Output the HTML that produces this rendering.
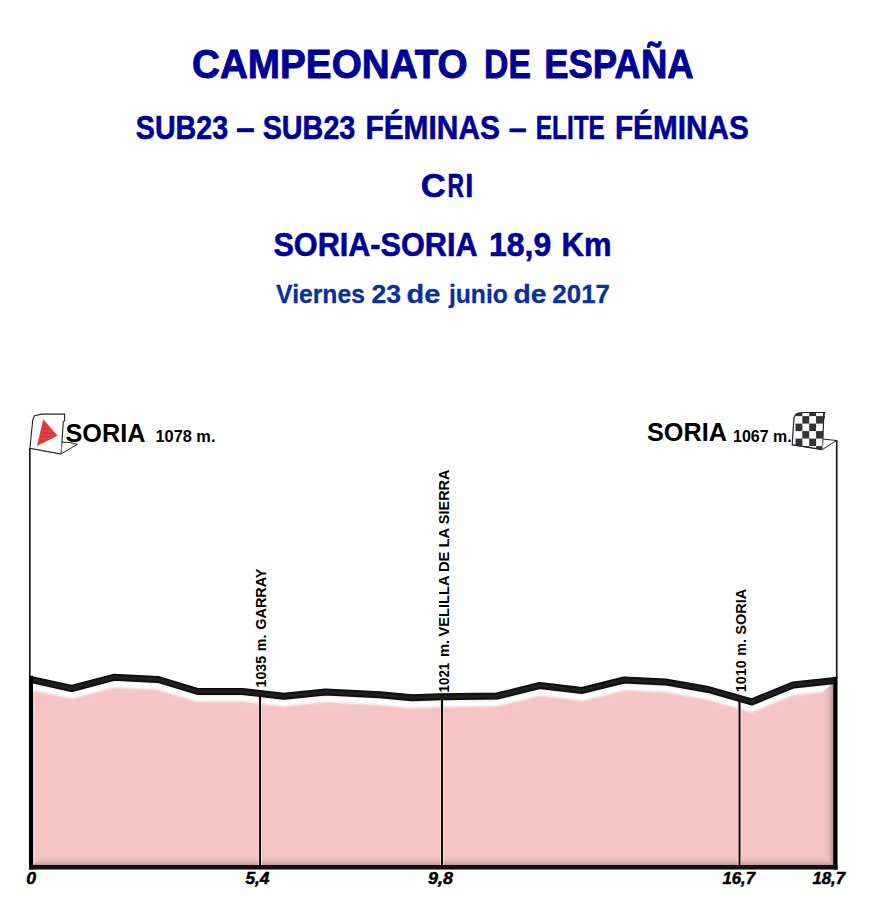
<!DOCTYPE html>
<html><head><meta charset="utf-8"><style>
html,body{margin:0;padding:0;background:#fff;width:871px;height:914px;overflow:hidden}
svg{display:block}
text{font-family:"Liberation Sans",sans-serif;font-weight:bold}
</style></head><body>
<svg width="871" height="914" viewBox="0 0 871 914">
<defs>
<clipPath id="cp"><polygon points="29.0,869.5 29.0,679.2 71.8,688.5 113.6,677.3 158.3,679.5 197.9,691.5 242.4,691.5 283.8,696.2 325.5,692.0 380.0,694.8 412.0,697.8 440.0,696.8 497.2,696.0 539.6,685.5 582.3,690.4 624.1,680.0 665.3,681.9 708.3,689.5 751.7,701.9 793.1,685.0 837.5,680.3 837.5,869.5"/></clipPath>
<filter id="bl" x="-5%" y="-50%" width="110%" height="200%"><feGaussianBlur stdDeviation="0.8"/></filter>
<linearGradient id="gr" gradientUnits="userSpaceOnUse" x1="822.2" y1="0" x2="833.2" y2="0"><stop offset="0" stop-color="#f5c5c5"/><stop offset="0.5" stop-color="#ebbdbd"/><stop offset="0.8" stop-color="#d3aaaa"/><stop offset="1" stop-color="#b39292"/></linearGradient>
<linearGradient id="gb" gradientUnits="userSpaceOnUse" x1="0" y1="854.0" x2="0" y2="865.0"><stop offset="0" stop-color="#f5c5c5"/><stop offset="0.5" stop-color="#ecbfbf"/><stop offset="0.8" stop-color="#d9afaf"/><stop offset="1" stop-color="#c09a9a"/></linearGradient>
<linearGradient id="gl" gradientUnits="userSpaceOnUse" x1="33.0" y1="0" x2="37.0" y2="0"><stop offset="0" stop-color="#e8c4c4"/><stop offset="0.3" stop-color="#f9cfcf"/><stop offset="1" stop-color="#f5c5c5"/></linearGradient>
</defs>
<polygon points="29.0,869.5 29.0,679.2 71.8,688.5 113.6,677.3 158.3,679.5 197.9,691.5 242.4,691.5 283.8,696.2 325.5,692.0 380.0,694.8 412.0,697.8 440.0,696.8 497.2,696.0 539.6,685.5 582.3,690.4 624.1,680.0 665.3,681.9 708.3,689.5 751.7,701.9 793.1,685.0 837.5,680.3 837.5,869.5" fill="#f5c5c5"/>
<g clip-path="url(#cp)">
<polygon points="33.0,683.5691588785047 37.0,687.5691588785047 37.0,861.0 33.0,865.0" fill="url(#gl)"/>
<polyline points="29.0,686.0 71.8,695.3 113.6,684.1 158.3,686.3 197.9,698.3 242.4,698.3 283.8,703.0 325.5,698.8 380.0,701.6 412.0,704.6 440.0,703.6 497.2,702.8 539.6,692.3 582.3,697.2 624.1,686.8 665.3,688.7 708.3,696.3 751.7,708.7 793.1,691.8 837.5,687.1" fill="none" stroke="#fff" stroke-width="6.6" stroke-linejoin="round" filter="url(#bl)"/>
<polygon points="33.0,865.0 44.0,854.0 822.2,854.0 833.2,865.0" fill="url(#gb)"/>
<polygon points="833.2,682.2551801801801 822.2,693.2551801801801 822.2,854.0 833.2,865.0" fill="url(#gr)"/>
</g>
<rect x="258.05" y="693.5037439613527" width="4" height="171.4962560386473" fill="#fbd6d6"/>
<rect x="259.1" y="693.5037439613527" width="1.9" height="171.4962560386473" fill="#000"/>
<rect x="440.0" y="696.7720279720279" width="4" height="168.2279720279721" fill="#fbd6d6"/>
<rect x="441.05" y="696.7720279720279" width="1.9" height="168.2279720279721" fill="#000"/>
<rect x="737.5" y="698.4142857142857" width="4" height="166.5857142857143" fill="#fbd6d6"/>
<rect x="738.55" y="698.4142857142857" width="1.9" height="166.5857142857143" fill="#000"/>
<polyline points="31.5,679.7 71.8,688.5 113.6,677.3 158.3,679.5 197.9,691.5 242.4,691.5 283.8,696.2 325.5,692.0 380.0,694.8 412.0,697.8 440.0,696.8 497.2,696.0 539.6,685.5 582.3,690.4 624.1,680.0 665.3,681.9 708.3,689.5 751.7,701.9 793.1,685.0 835.0,680.6" fill="none" stroke="#0a0a0a" stroke-width="7.0" stroke-linejoin="round"/>
<polyline points="31.5,679.7 71.8,688.5 113.6,677.3 158.3,679.5 197.9,691.5 242.4,691.5 283.8,696.2 325.5,692.0 380.0,694.8 412.0,697.8 440.0,696.8 497.2,696.0 539.6,685.5 582.3,690.4 624.1,680.0 665.3,681.9 708.3,689.5 751.7,701.9 793.1,685.0 835.0,680.6" fill="none" stroke="#262626" stroke-width="3" stroke-linejoin="round" filter="url(#bl)"/>
<rect x="29.0" y="675.7" width="4.0" height="193.79999999999995" fill="#000"/>
<rect x="833.2" y="676.8" width="4.2999999999999545" height="192.70000000000005" fill="#000"/>
<rect x="29.0" y="865.0" width="808.5" height="4.5" fill="#111"/>
<rect x="29.0" y="448" width="1.6" height="228.70000000000005" fill="#111"/>
<rect x="835.9" y="440" width="1.6" height="237.79999999999995" fill="#111"/>
<polygon points="62.0,442.1 70,442.6 77.4,444.3 61.0,454.0 29.9,448.2" fill="#fff" stroke="#222" stroke-width="1.0" stroke-linejoin="round"/>
<polygon points="32.8,419.6 34.4,415.7 42.1,414.1 64.6,414.1 64.6,420.9 63.3,421.5 62.0,442.1 61.0,454.0 29.9,448.2" fill="#fff" stroke="#222" stroke-width="1.1" stroke-linejoin="round"/>
<polyline points="62.0,442.1 61.0,454.0" fill="none" stroke="#999" stroke-width="0.9"/>
<polygon points="43.4,419.6 57.5,435.7 36.9,446.0" fill="#db3535"/>
<rect x="35" y="422.5" width="24" height="1.3" fill="#e24848" clip-path="url(#ctri)"/>
<rect x="35" y="426.4" width="24" height="1.3" fill="#e24848" clip-path="url(#ctri)"/>
<rect x="35" y="430.3" width="24" height="1.3" fill="#e24848" clip-path="url(#ctri)"/>
<rect x="35" y="434.2" width="24" height="1.3" fill="#e24848" clip-path="url(#ctri)"/>
<rect x="35" y="438.1" width="24" height="1.3" fill="#e24848" clip-path="url(#ctri)"/>
<rect x="35" y="442.0" width="24" height="1.3" fill="#e24848" clip-path="url(#ctri)"/>
<clipPath id="ctri"><polygon points="43.4,419.6 57.5,435.7 36.9,446.0"/></clipPath>
<clipPath id="cf"><polygon points="795.8,414.3 798.5,413.0 802.9,412.5 824.7,412.5 823.8,414 822.9,439.0 822.3,449.6 792.2,444.7 793.0,432 794.0,417.6"/></clipPath>
<polygon points="822.9,439.0 836.4,440.5 822.3,449.6 792.2,444.7" fill="#fff" stroke="#222" stroke-width="1.0"/>
<polygon points="795.8,414.3 798.5,413.0 802.9,412.5 824.7,412.5 823.8,414 822.9,439.0 822.3,449.6 792.2,444.7 793.0,432 794.0,417.6" fill="#fff"/>
<g clip-path="url(#cf)">
<rect x="795.50" y="408.60" width="6.85" height="7.5" fill="#333"/>
<rect x="795.50" y="423.60" width="6.85" height="7.5" fill="#333"/>
<rect x="795.50" y="438.60" width="6.85" height="7.5" fill="#333"/>
<rect x="802.35" y="416.10" width="6.85" height="7.5" fill="#333"/>
<rect x="802.35" y="431.10" width="6.85" height="7.5" fill="#333"/>
<rect x="802.35" y="446.10" width="6.85" height="7.5" fill="#333"/>
<rect x="809.20" y="408.60" width="6.85" height="7.5" fill="#333"/>
<rect x="809.20" y="423.60" width="6.85" height="7.5" fill="#333"/>
<rect x="809.20" y="438.60" width="6.85" height="7.5" fill="#333"/>
<rect x="816.05" y="416.10" width="6.85" height="7.5" fill="#333"/>
<rect x="816.05" y="431.10" width="6.85" height="7.5" fill="#333"/>
<rect x="816.05" y="446.10" width="6.85" height="7.5" fill="#333"/>
</g>
<polygon points="795.8,414.3 798.5,413.0 802.9,412.5 824.7,412.5 823.8,414 822.9,439.0 822.3,449.6 792.2,444.7 793.0,432 794.0,417.6" fill="none" stroke="#222" stroke-width="1.2"/>
<polyline points="822.9,439.0 822.3,449.6" fill="none" stroke="#aaa" stroke-width="0.9"/>
<rect x="823.2" y="412.5" width="1.6" height="6" fill="#222"/>
<text transform="translate(191.98,78.25) scale(0.9570,1)" font-size="40.41" fill="#000096" stroke="#000096" stroke-width="0.90" stroke-linejoin="round" >CAMPEONATO</text>
<text transform="translate(484.05,78.25) scale(0.8348,1)" font-size="40.41" fill="#000096" stroke="#000096" stroke-width="0.90" stroke-linejoin="round" >DE</text>
<text transform="translate(544.16,78.25) scale(0.9040,1)" font-size="40.41" fill="#000096" stroke="#000096" stroke-width="0.90" stroke-linejoin="round" >ESPAÑA</text>
<text transform="translate(135.85,138.50) scale(0.8488,1)" font-size="33.72" fill="#000096" stroke="#000096" stroke-width="0.60" stroke-linejoin="round" >SUB23</text>
<text transform="translate(236.21,138.50) scale(0.9851,1)" font-size="33.72" fill="#000096" stroke="#000096" stroke-width="0.60" stroke-linejoin="round" >–</text>
<text transform="translate(262.65,138.50) scale(0.8535,1)" font-size="33.72" fill="#000096" stroke="#000096" stroke-width="0.60" stroke-linejoin="round" >SUB23</text>
<text transform="translate(365.41,138.50) scale(0.8863,1)" font-size="33.72" fill="#000096" stroke="#000096" stroke-width="0.60" stroke-linejoin="round" >FÉMINAS</text>
<text transform="translate(508.74,138.50) scale(0.9552,1)" font-size="33.72" fill="#000096" stroke="#000096" stroke-width="0.60" stroke-linejoin="round" >–</text>
<text transform="translate(535.67,138.50) scale(0.7250,1)" font-size="33.72" fill="#000096" stroke="#000096" stroke-width="0.60" stroke-linejoin="round" >ELITE</text>
<text transform="translate(614.91,138.50) scale(0.8823,1)" font-size="33.72" fill="#000096" stroke="#000096" stroke-width="0.60" stroke-linejoin="round" >FÉMINAS</text>
<text transform="translate(420.72,196.60) scale(1.0202,1)" font-size="33.87" fill="#000096" stroke="#000096" stroke-width="0.60" stroke-linejoin="round" >C</text>
<text transform="translate(447.58,196.60) scale(0.6744,1)" font-size="33.87" fill="#000096" stroke="#000096" stroke-width="0.60" stroke-linejoin="round" >R</text>
<text transform="translate(465.37,196.60) scale(0.8600,1)" font-size="33.87" fill="#000096" stroke="#000096" stroke-width="0.60" stroke-linejoin="round" >I</text>
<text transform="translate(273.39,255.50) scale(0.9122,1)" font-size="33.58" fill="#000096" stroke="#000096" stroke-width="0.60" stroke-linejoin="round" >SORIA-SORIA</text>
<text transform="translate(488.99,255.50) scale(0.9526,1)" font-size="33.58" fill="#000096" stroke="#000096" stroke-width="0.60" stroke-linejoin="round" >18,9</text>
<text transform="translate(561.52,255.50) scale(0.9246,1)" font-size="33.58" fill="#000096" stroke="#000096" stroke-width="0.60" stroke-linejoin="round" >Km</text>
<text transform="translate(276.12,302.65) scale(0.9333,1)" font-size="26.45" fill="#0a3099" stroke="#0a3099" stroke-width="0.30" stroke-linejoin="round" >Viernes</text>
<text transform="translate(371.45,302.65) scale(1.0036,1)" font-size="26.45" fill="#0a3099" stroke="#0a3099" stroke-width="0.30" stroke-linejoin="round" >23</text>
<text transform="translate(406.45,302.65) scale(1.0966,1)" font-size="26.45" fill="#0a3099" stroke="#0a3099" stroke-width="0.30" stroke-linejoin="round" >de</text>
<text transform="translate(448.92,302.65) scale(0.9339,1)" font-size="26.45" fill="#0a3099" stroke="#0a3099" stroke-width="0.30" stroke-linejoin="round" >junio</text>
<text transform="translate(513.48,302.65) scale(1.0724,1)" font-size="26.45" fill="#0a3099" stroke="#0a3099" stroke-width="0.30" stroke-linejoin="round" >de</text>
<text transform="translate(552.37,302.65) scale(0.9780,1)" font-size="26.45" fill="#0a3099" stroke="#0a3099" stroke-width="0.30" stroke-linejoin="round" >2017</text>
<text transform="translate(65.47,441.50) scale(0.9716,1)" font-size="26.02" fill="#000" >SORIA</text>
<text transform="translate(155.45,441.90) scale(0.9453,1)" font-size="17.30" fill="#000" >1078 m.</text>
<text transform="translate(646.97,441.30) scale(0.9704,1)" font-size="26.02" fill="#000" >SORIA</text>
<text transform="translate(733.08,441.90) scale(0.9241,1)" font-size="17.30" fill="#000" >1067 m.</text>
<text transform="translate(26.37,883.55) scale(1.0353,1)" font-size="17.01" fill="#000" font-style="italic" stroke="#000" stroke-width="0.50" stroke-linejoin="round" >0</text>
<text transform="translate(245.40,883.55) scale(1.0174,1)" font-size="17.01" fill="#000" font-style="italic" stroke="#000" stroke-width="0.50" stroke-linejoin="round" >5,4</text>
<text transform="translate(428.12,883.55) scale(1.0538,1)" font-size="17.01" fill="#000" font-style="italic" stroke="#000" stroke-width="0.50" stroke-linejoin="round" >9,8</text>
<text transform="translate(722.40,883.55) scale(0.9881,1)" font-size="17.01" fill="#000" font-style="italic" stroke="#000" stroke-width="0.50" stroke-linejoin="round" >16,7</text>
<text transform="translate(812.40,883.55) scale(0.9881,1)" font-size="17.01" fill="#000" font-style="italic" stroke="#000" stroke-width="0.50" stroke-linejoin="round" >18,7</text>
<text transform="translate(266.10,687.44) rotate(-90) scale(0.9364,1)" font-size="15.12" fill="#000">1035</text>
<text transform="translate(266.10,651.15) rotate(-90) scale(0.9460,1)" font-size="15.12" fill="#000">m.</text>
<text transform="translate(266.10,629.78) rotate(-90) scale(0.9565,1)" font-size="15.12" fill="#000">GARRAY</text>
<text transform="translate(449.00,692.38) rotate(-90) scale(0.8806,1)" font-size="15.12" fill="#000">1021</text>
<text transform="translate(449.00,656.97) rotate(-90) scale(0.9714,1)" font-size="15.12" fill="#000">m.</text>
<text transform="translate(449.00,636.44) rotate(-90) scale(0.9703,1)" font-size="15.12" fill="#000">VELILLA</text>
<text transform="translate(449.00,572.08) rotate(-90) scale(0.9795,1)" font-size="15.12" fill="#000">DE</text>
<text transform="translate(449.00,547.48) rotate(-90) scale(0.9813,1)" font-size="15.12" fill="#000">LA</text>
<text transform="translate(449.00,524.18) rotate(-90) scale(0.9582,1)" font-size="15.12" fill="#000">SIERRA</text>
<text transform="translate(746.20,692.13) rotate(-90) scale(0.9252,1)" font-size="15.41" fill="#000">1010</text>
<text transform="translate(746.20,655.83) rotate(-90) scale(0.9312,1)" font-size="15.41" fill="#000">m.</text>
<text transform="translate(746.20,634.67) rotate(-90) scale(0.9438,1)" font-size="15.41" fill="#000">SORIA</text>
</svg>
</body></html>
